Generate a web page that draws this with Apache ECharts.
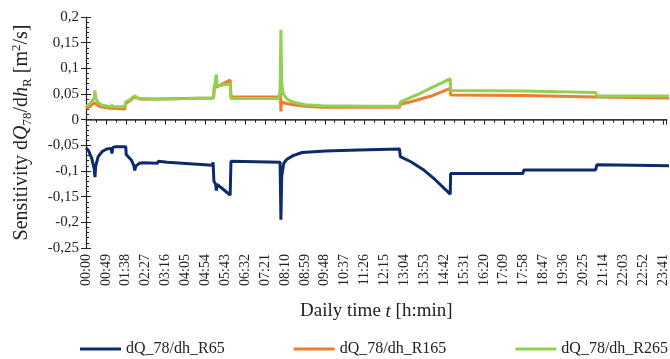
<!DOCTYPE html>
<html>
<head>
<meta charset="utf-8">
<script src="https://cdn.jsdelivr.net/npm/echarts@6/dist/echarts.min.js"></script>
<style>html,body{margin:0;padding:0;background:#fff}#c{width:670px;height:359px}</style>
</head>
<body>
<div id="c"></div>
<script>
// Time in minutes since 00:00, value in m²/s
var seriesNames = ['dQ_78/dh_R65', 'dQ_78/dh_R165', 'dQ_78/dh_R265'];

var timeR65 = [0, 6, 14, 20, 22, 24, 30, 40, 51, 62, 64, 66, 71, 98, 99, 112, 118, 120, 123, 132, 140, 176, 178, 200, 311, 313, 315, 319, 321, 323, 340, 355, 357, 478, 480, 482, 487, 495, 510, 532, 590, 670, 772, 774, 800, 830, 860, 897, 898, 1076, 1078, 1255, 1258, 1350, 1440];
var valR65 = [-0.055, -0.06, -0.075, -0.095, -0.112, -0.09, -0.072, -0.062, -0.057, -0.056, -0.066, -0.054, -0.053, -0.053, -0.068, -0.079, -0.09, -0.099, -0.09, -0.085, -0.084, -0.085, -0.081, -0.083, -0.089, -0.083, -0.12, -0.125, -0.138, -0.126, -0.137, -0.147, -0.081, -0.083, -0.195, -0.11, -0.085, -0.077, -0.07, -0.064, -0.061, -0.059, -0.057, -0.072, -0.082, -0.097, -0.117, -0.145, -0.105, -0.105, -0.098, -0.098, -0.088, -0.089, -0.09];

var timeR165 = [0, 10, 20, 22, 24, 35, 60, 96, 97, 110, 120, 126, 135, 314, 316, 330, 345, 355, 357, 478, 479, 480, 481, 490, 510, 540, 580, 772, 774, 800, 850, 897, 898, 1076, 1078, 1255, 1258, 1440];
var valR165 = [0.022, 0.026, 0.033, 0.036, 0.03, 0.025, 0.022, 0.021, 0.031, 0.038, 0.044, 0.042, 0.04, 0.042, 0.062, 0.067, 0.073, 0.077, 0.044, 0.044, 0.052, 0.016, 0.035, 0.032, 0.029, 0.026, 0.024, 0.024, 0.03, 0.035, 0.046, 0.061, 0.048, 0.047, 0.044, 0.044, 0.042, 0.042];

var timeR265 = [0, 10, 20, 22, 24, 30, 40, 55, 62, 64, 66, 96, 97, 110, 120, 126, 135, 176, 250, 314, 316, 319, 321, 323, 335, 355, 357, 475, 478, 480, 482, 486, 495, 510, 540, 580, 700, 772, 774, 790, 820, 850, 880, 897, 898, 1076, 1078, 1255, 1258, 1440];
var valR265 = [0.027, 0.031, 0.042, 0.057, 0.042, 0.033, 0.028, 0.026, 0.025, 0.029, 0.025, 0.025, 0.034, 0.04, 0.047, 0.043, 0.041, 0.04, 0.041, 0.042, 0.063, 0.066, 0.088, 0.066, 0.067, 0.07, 0.041, 0.041, 0.06, 0.175, 0.07, 0.05, 0.04, 0.034, 0.029, 0.027, 0.026, 0.026, 0.034, 0.04, 0.05, 0.062, 0.073, 0.08, 0.057, 0.056, 0.053, 0.053, 0.046, 0.046];

var yMin = -0.25, yMax = 0.2, yStep = 0.05;
var xMin = 0, xMax = 1430, xStep = 49;

function pairs(t, v) { return t.map(function (x, i) { return [x, v[i]]; }); }
function fmtTime(m) { var h = Math.floor(m / 60), mm = Math.round(m % 60); return (h < 10 ? '0' : '') + h + ':' + (mm < 10 ? '0' : '') + mm; }
function fmtVal(v) { return parseFloat(v.toFixed(2)).toString().replace('.', ','); }

var FONT = '"Liberation Serif", "DejaVu Serif", serif';
var chart = echarts.init(document.getElementById('c'), null, { renderer: 'canvas' });
chart.setOption({
  animation: false,
  backgroundColor: '#fff',
  grid: { left: 86, right: 0, top: 17, bottom: 111, containLabel: false },
  legend: {
    left: 75, top: 336, width: 640, itemGap: 69, itemWidth: 41, itemHeight: 3, icon: 'rect',
    textStyle: { fontFamily: FONT, fontSize: 16, color: '#222' },
    data: seriesNames
  },
  xAxis: [{
    type: 'value', min: xMin, max: xMax, interval: xStep, position: 'bottom',
    axisLine: { show: true, lineStyle: { color: '#222', width: 1.2 } },
    axisTick: { show: true, length: 5, lineStyle: { color: '#222' } },
    minorTick: { show: true, splitNumber: 2, length: 3, lineStyle: { color: '#222' } },
    splitLine: { show: false },
    axisLabel: { rotate: 90, margin: 6, showMaxLabel: false, fontFamily: FONT, fontSize: 14, color: '#222', formatter: fmtTime },
    name: 'Daily time {i|t} [h:min]', nameLocation: 'middle', nameGap: 54,
    nameTextStyle: { fontFamily: FONT, fontSize: 19, color: '#222', rich: { i: { fontFamily: FONT, fontSize: 19, fontStyle: 'italic', color: '#222' } } }
  }, {
    type: 'value', min: xMin, max: xMax, position: 'top',
    axisLine: { show: true, lineStyle: { color: '#444', width: 1.5 } },
    axisTick: { show: false }, axisLabel: { show: false }, splitLine: { show: false }
  }],
  yAxis: [{
    type: 'value', min: yMin, max: yMax, interval: yStep,
    axisLine: { show: true, lineStyle: { color: '#222', width: 1.2 } },
    axisTick: { show: true, length: 5, lineStyle: { color: '#222' } },
    splitLine: { show: false },
    axisLabel: { margin: 7, fontFamily: FONT, fontSize: 15, color: '#222', formatter: fmtVal },
    name: '{t|Sensitivity d}{i|Q}{s|78}{t|/d}{i|h}{s|R}{t| [m}{p|2}{t|/s]}',
    nameLocation: 'middle', nameRotate: 90, nameGap: 52,
    nameTextStyle: {
      rich: {
        t: { fontFamily: FONT, fontSize: 20, color: '#222', lineHeight: 24 },
        i: { fontFamily: FONT, fontSize: 20, fontStyle: 'italic', color: '#222', lineHeight: 24 },
        s: { fontFamily: FONT, fontSize: 13, color: '#222', lineHeight: 12, verticalAlign: 'bottom' },
        p: { fontFamily: FONT, fontSize: 13, color: '#222', lineHeight: 16, verticalAlign: 'top' }
      }
    }
  }, {
    type: 'value', min: yMin, max: yMax, interval: yStep, position: 'left',
    axisLine: { show: false },
    axisTick: { show: true, inside: true, length: 5, lineStyle: { color: '#222' } },
    minorTick: { show: true, splitNumber: 5, length: 3, lineStyle: { color: '#222' } },
    axisLabel: { show: false }, splitLine: { show: false }
  }],
  series: [
    { name: seriesNames[0], type: 'line', data: pairs(timeR65, valR65), showSymbol: false, symbol: 'none', color: '#0D2B6B', lineStyle: { width: 3, color: '#0D2B6B' } },
    { name: seriesNames[1], type: 'line', data: pairs(timeR165, valR165), showSymbol: false, symbol: 'none', color: '#ED7D31', lineStyle: { width: 3, color: '#ED7D31' } },
    { name: seriesNames[2], type: 'line', data: pairs(timeR265, valR265), showSymbol: false, symbol: 'none', color: '#92D050', lineStyle: { width: 3, color: '#92D050' } }
  ]
});
</script>
</body>
</html>
